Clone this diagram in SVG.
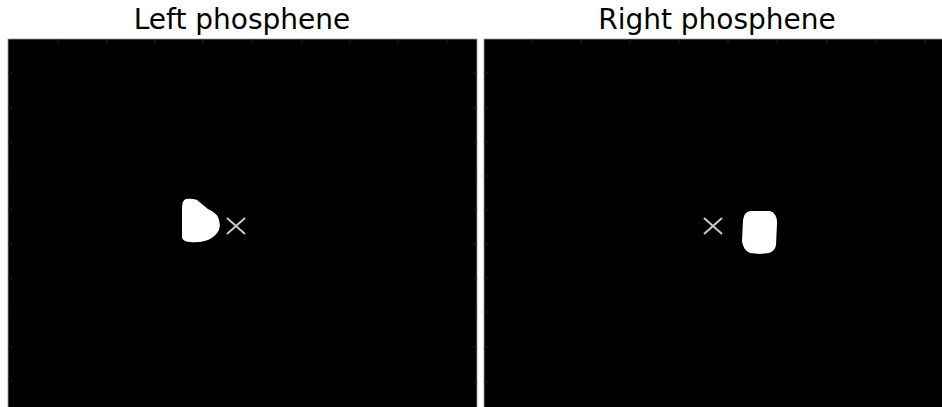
<svg xmlns="http://www.w3.org/2000/svg" width="942" height="407" viewBox="0 0 942 407">
  <style>
    .title { font-family: "DejaVu Sans", Verdana, sans-serif; font-size: 28px; fill: #000; text-anchor: middle; }
    .panel { fill: #000; stroke: #9a9a9a; stroke-width: 0.8; }
    .tick { stroke: #222; stroke-width: 1; }
    .cross { stroke: #c8c8c8; stroke-width: 2; stroke-linecap: butt; fill: none; }
    .blob { fill: #fff; }
  </style>
  <rect width="942" height="407" fill="#fff"/>

  <g id="left-panel">
    <text class="title" x="242" y="29">Left phosphene</text>
    <rect class="panel" x="8" y="39" width="469" height="372"/>
    <g class="tick">
      <path d="M58 39v4M107 39v4M155 39v4M203 39v4M252 39v4M302 39v4M350 39v4M398 39v4M447 39v4"/>
      <path d="M8 73h4M8 108h4M8 142h4M8 176h4M8 210h4M8 244h4M8 278h4M8 312h4M8 347h4M8 381h4"/>
      <path d="M477 347h-4M477 382h-4M477 73h-4M477 108h-4M477 142h-4M477 176h-4M477 210h-4M477 244h-4M477 278h-4M477 312h-4"/>
    </g>
    <path id="left-blob" class="blob" d="M186 199 Q192 198 197 200 Q203 205 208 209 Q215 212 218 217 Q221 224 219 230 Q216 236 208 240 Q200 243 190 242 Q184 242 182 238 L182 208 Q182 200 186 199 Z"/>
    <path id="left-cross" class="cross" d="M227 218 L245 234 M245 218 L227 234"/>
  </g>

  <g id="right-panel">
    <text class="title" x="717" y="29">Right phosphene</text>
    <rect class="panel" x="484" y="39" width="462" height="372"/>
    <g class="tick">
      <path d="M532 39v4M581 39v4M630 39v4M679 39v4M728 39v4M777 39v4M827 39v4M876 39v4M925 39v4"/>
      <path d="M484 73h4M484 108h4M484 142h4M484 176h4M484 210h4M484 244h4M484 278h4M484 312h4M484 347h4M484 382h4"/>
    </g>
    <path id="right-blob" class="blob" d="M750 211 L770 211 Q777 213 777 223 L776 245 Q775 251 769 253 L760 254 L750 253 Q743 250 742 241 L743 220 Q744 212 750 211 Z"/>
    <path id="right-cross" class="cross" d="M704 218 L722 234 M722 218 L704 234"/>
  </g>
</svg>
